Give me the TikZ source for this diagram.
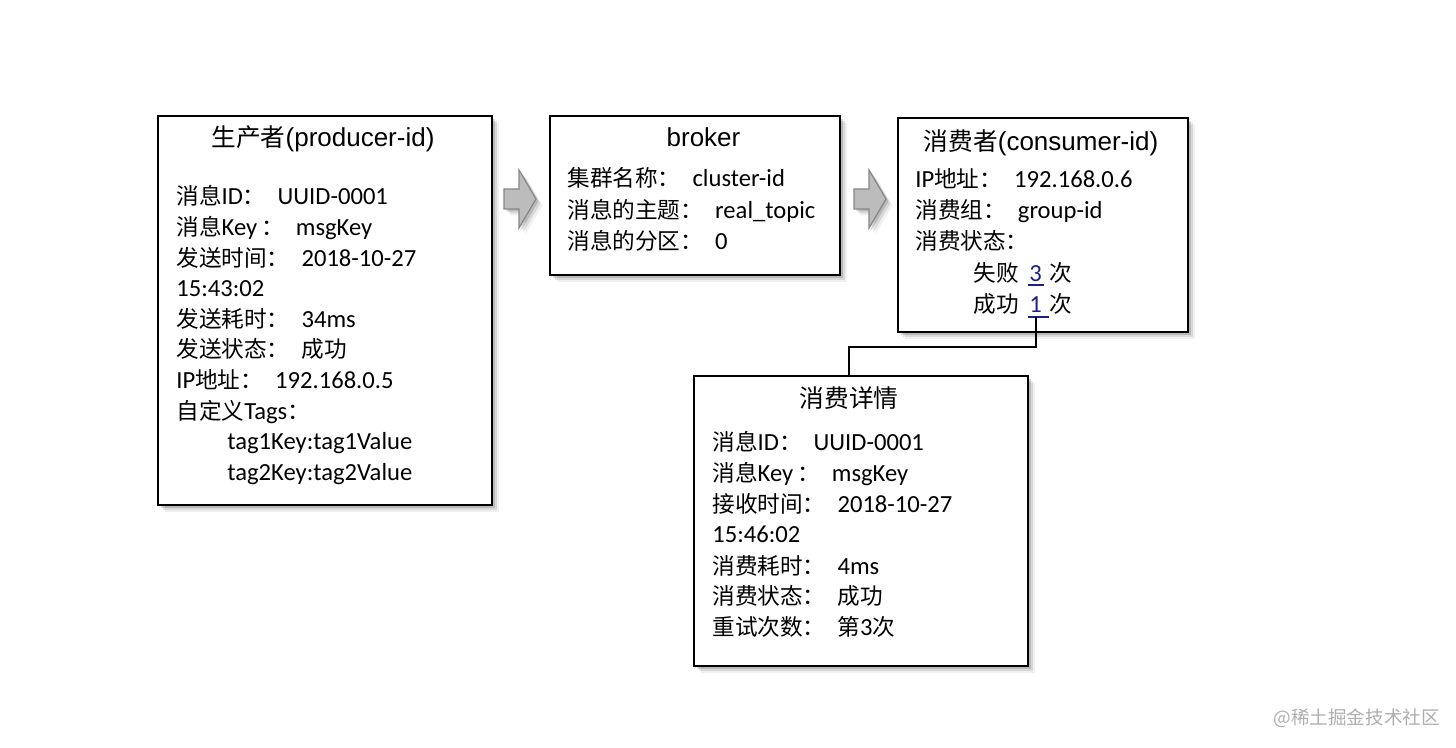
\documentclass[tikz,border=0pt]{standalone}
\usepackage{fontspec}
\usetikzlibrary{shadows}
\setmainfont{Carlito}
\newfontfamily\cjkfont[Scale=0.92]{Noto Sans CJK SC}
\newfontfamily\titlefont{Liberation Sans}
\newfontfamily\titlecjk[Scale=0.95]{Noto Sans CJK SC}
\newfontfamily\wmfont{Noto Sans CJK SC}
\newcommand\zh[1]{{\cjkfont #1}}
\newcommand\tz[1]{{\titlecjk #1}}
\newcommand\cn{\zh{：}\hspace{6pt}}
\newcommand\kc{\hspace{2pt}\zh{：}\hspace{6pt}}
\definecolor{numblue}{RGB}{25,35,135}
\definecolor{arrowfill}{RGB}{188,188,188}
\definecolor{arrowdraw}{RGB}{135,135,135}
\definecolor{wmgray}{RGB}{175,175,175}
\tikzset{
  softshadow/.style={
    drop shadow={shadow xshift=1.2pt,shadow yshift=-1.2pt,opacity=.22,fill=black!70},
    drop shadow={shadow xshift=2.2pt,shadow yshift=-2.2pt,opacity=.14,fill=black!70},
    drop shadow={shadow xshift=3.2pt,shadow yshift=-3.2pt,opacity=.08,fill=black!70}},
  box/.style={draw=black, line width=1.2pt, fill=white, rectangle, inner sep=0pt,
    anchor=north west, softshadow},
  ln/.style={anchor=base west, inner sep=0pt, font=\fontsize{12.3}{15}\selectfont},
  ttl/.style={anchor=base, inner sep=0pt, font=\fontsize{13}{16}\selectfont\titlefont},
  num/.style={anchor=base west, inner sep=0pt, text=numblue, font=\fontsize{12.3}{15}\selectfont},
  uline/.style={draw=numblue, line width=1pt},
  blockarrow/.style={fill=arrowfill, draw=arrowdraw, line width=0.6pt, softshadow},
  link/.style={draw=black, line width=0.9pt}
}
\begin{document}
\begin{tikzpicture}[x=0.5pt,y=-0.5pt]
\path[use as bounding box, fill=white] (0,0) rectangle (1456,748);

% boxes
\node[box, minimum width=167pt, minimum height=194.5pt] (prod) at (157,115) {};
\node[box, minimum width=145pt, minimum height=79.5pt] (brok) at (549,115) {};
\node[box, minimum width=145pt, minimum height=107pt] (cons) at (897,117) {};
\node[box, minimum width=167pt, minimum height=145pt] (det) at (693,375) {};

% block arrows
\path[blockarrow] (504,189) -- (519,189) -- (519,170) -- (536,199) -- (519,228) -- (519,209) -- (504,209) -- cycle;
\path[blockarrow] (854,189) -- (869,189) -- (869,170) -- (886,199) -- (869,228) -- (869,209) -- (854,209) -- cycle;

% producer
\node[ttl] (pt) at (323,147) {\tz{生产者}(producer-id)};
\node[ln] (p1) at (176,205) {\zh{消息}ID\cn UUID-0001};
\node[ln] (p2) at (176,235.6) {\zh{消息}Key\kc msgKey};
\node[ln] (p3) at (176,266.2) {\zh{发送时间}\cn 2018-10-27};
\node[ln] (p4) at (176,296.8) {15:43:02};
\node[ln] (p5) at (176,327.4) {\zh{发送耗时}\cn 34ms};
\node[ln] (p6) at (176,358) {\zh{发送状态}\cn\zh{成功}};
\node[ln] (p7) at (176,388.6) {IP\zh{地址}\cn 192.168.0.5};
\node[ln] (p8) at (176,419.2) {\zh{自定义}Tags\zh{：}};
\node[ln] (p9) at (227,449.8) {tag1Key:tag1Value};
\node[ln] (p10) at (227,480.4) {tag2Key:tag2Value};

% broker
\node[ttl] (bt) at (703.5,147) {broker};
\node[ln] (b1) at (567,187) {\zh{集群名称}\cn cluster-id};
\node[ln] (b2) at (567,218.5) {\zh{消息的主题}\cn real\_topic};
\node[ln] (b3) at (567,250) {\zh{消息的分区}\cn 0};

% consumer
\node[ttl] (ct) at (1041,151) {\tz{消费者}(consumer-id)};
\node[ln] (c1) at (915,188) {IP\zh{地址}\cn 192.168.0.6};
\node[ln] (c2) at (915,219) {\zh{消费组}\cn group-id};
\node[ln] (c3) at (915,250) {\zh{消费状态}\zh{：}};
\node[ln] (c4) at (973,282) {\zh{失败}};
\node[num] (n3) at (1029,282) {3};
\node[ln] (c4b) at (1049,282) {\zh{次}};
\node[ln] (c5) at (973,312.5) {\zh{成功}};
\node[num] (n1) at (1029,312.5) {1};
\node[ln] (c5b) at (1049,312.5) {\zh{次}};
\draw[uline] (1028,285.5) -- (1044,285.5);
\draw[uline] (1028,317) -- (1049,317);

% details
\node[ttl] (dt) at (849,408) {\tz{消费详情}};
\node[ln] (d1) at (712,451) {\zh{消息}ID\cn UUID-0001};
\node[ln] (d2) at (712,481.5) {\zh{消息}Key\kc msgKey};
\node[ln] (d3) at (712,512) {\zh{接收时间}\cn 2018-10-27};
\node[ln] (d4) at (712,542.5) {15:46:02};
\node[ln] (d5) at (712,574) {\zh{消费耗时}\cn 4ms};
\node[ln] (d6) at (712,604.5) {\zh{消费状态}\cn\zh{成功}};
\node[ln] (d7) at (712,635) {\zh{重试次数}\cn\zh{第}3\zh{次}};

% connector
\coordinate (u1) at (1036,317.5);
\coordinate (elbow) at (849,347);
\draw[link] (u1) |- (elbow) -- (elbow |- det.north);

% watermark
\node[anchor=base west, inner sep=0pt, text=wmgray, font=\wmfont\fontsize{9.3}{11}\selectfont] (wm) at (1273,724) {@稀土掘金技术社区};
\end{tikzpicture}
\end{document}
